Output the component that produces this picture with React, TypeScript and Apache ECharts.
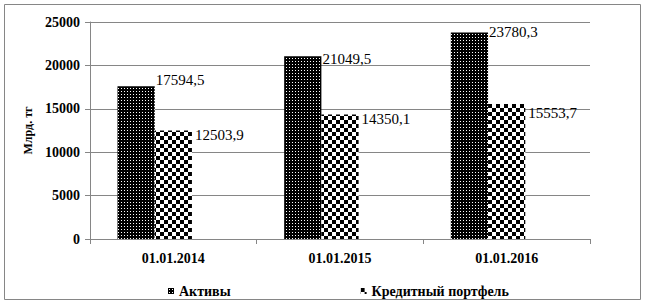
import React, { useEffect, useRef } from "react";
import * as echarts from "echarts";

const categories = ["01.01.2014", "01.01.2015", "01.01.2016"];
const assets = [17594.5, 21049.5, 23780.3];
const loans = [12503.9, 14350.1, 15553.7];
const emptySlot: (number | null)[] = [null, null, null];
const seriesNames = ["Активы", "Кредитный портфель"];
const yTicks = { min: 0, max: 25000, interval: 5000 };
const yName = "Млрд. тг";

// label offsets (style only)
const assetLabelDy = [-6, 3, -1];
const loanLabelDy = [5, 5, 9];

function makeDots(): HTMLCanvasElement {
  const c = document.createElement("canvas");
  c.width = 3;
  c.height = 3;
  const ctx = c.getContext("2d")!;
  ctx.fillStyle = "#000";
  ctx.fillRect(0, 0, 3, 3);
  ctx.fillStyle = "#fff";
  ctx.fillRect(1, 1, 1, 1);
  return c;
}

function makeChecker(): HTMLCanvasElement {
  const c = document.createElement("canvas");
  c.width = 8;
  c.height = 8;
  const ctx = c.getContext("2d")!;
  ctx.fillStyle = "#fff";
  ctx.fillRect(0, 0, 8, 8);
  ctx.fillStyle = "#000";
  ctx.fillRect(0, 0, 4, 4);
  ctx.fillRect(4, 4, 4, 4);
  return c;
}

const fmt = (v: number) => v.toFixed(1).replace(".", ",");
const FONT = "Liberation Serif";

export default function App() {
  const ref = useRef<HTMLDivElement>(null);
  useEffect(() => {
    document.body.style.margin = "0";
    const chart = echarts.init(ref.current!, undefined, { renderer: "svg" });
    const dots = makeDots();
    const checker = makeChecker();
    const dotsColor: any = { image: dots, repeat: "repeat" };
    const checkColor: any = { image: checker, repeat: "repeat" };
    const labelBase = {
      show: true,
      position: ["100%", 0],
      align: "left",
      verticalAlign: "middle",
      fontFamily: FONT,
      fontSize: 15,
      color: "#000",
      formatter: (p: any) => fmt(p.value),
    };
    chart.setOption({
      animation: false,
      backgroundColor: "#fff",
      textStyle: { fontFamily: FONT },
      graphic: [
        {
          type: "rect",
          shape: { x: 4.5, y: 4.5, width: 636, height: 295 },
          style: { fill: "none", stroke: "#868686", lineWidth: 1 },
          silent: true,
          z: -1,
        },
      ],
      grid: { left: 90, right: 55, top: 22, bottom: 68 },
      legend: {
        left: 163,
        top: 279,
        itemWidth: 6,
        itemHeight: 6,
        itemGap: 130,
        icon: "rect",
        textStyle: { fontFamily: FONT, fontSize: 14, fontWeight: "bold", color: "#000" },
        data: seriesNames,
      },
      xAxis: {
        type: "category",
        data: categories,
        axisLine: { lineStyle: { color: "#868686" } },
        axisTick: { show: true, length: 5, lineStyle: { color: "#868686" } },
        axisLabel: { margin: 12, fontFamily: FONT, fontSize: 14, fontWeight: "bold", color: "#000" },
      },
      yAxis: {
        type: "value",
        min: yTicks.min,
        max: yTicks.max,
        interval: yTicks.interval,
        name: yName,
        nameLocation: "middle",
        nameRotate: 90,
        nameGap: 55,
        nameTextStyle: { fontFamily: FONT, fontSize: 12, fontWeight: "bold", color: "#000" },
        axisLine: { show: true, lineStyle: { color: "#868686" } },
        axisTick: { show: true, length: 5, lineStyle: { color: "#868686" } },
        splitLine: { lineStyle: { color: "#868686" } },
        axisLabel: {
          margin: 10,
          fontFamily: FONT,
          fontSize: 14,
          fontWeight: "bold",
          color: "#000",
          formatter: (v: number) => String(v),
        },
      },
      series: [
        {
          name: seriesNames[0],
          type: "bar",
          barGap: "0%",
          barCategoryGap: "33%",
          itemStyle: { color: dotsColor },
          data: assets.map((v, i) => ({
            value: v,
            label: { ...labelBase, offset: [1, assetLabelDy[i]] },
          })),
        },
        {
          name: seriesNames[1],
          type: "bar",
          itemStyle: { color: checkColor },
          data: loans.map((v, i) => ({
            value: v,
            label: { ...labelBase, offset: [3, loanLabelDy[i]] },
          })),
        },
        {
          name: "_empty",
          type: "bar",
          data: emptySlot,
        },
      ],
    });
    return () => chart.dispose();
  }, []);
  return <div ref={ref} style={{ width: 645, height: 307 }} />;
}
